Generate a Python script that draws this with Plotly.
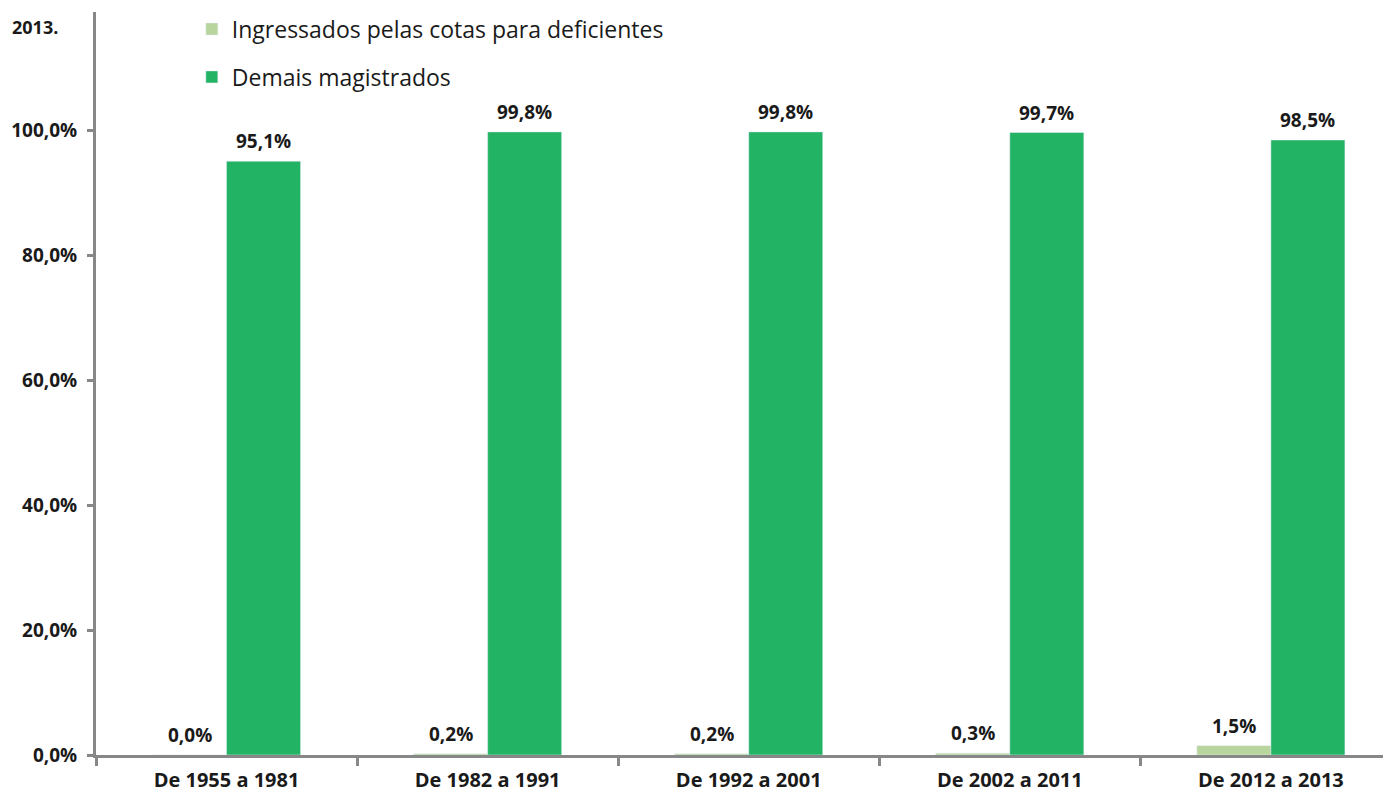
import plotly.graph_objects as go

categories = ["De 1955 a 1981", "De 1982 a 1991", "De 1992 a 2001", "De 2002 a 2011", "De 2012 a 2013"]
cotas = [0.0, 0.2, 0.2, 0.3, 1.5]
demais = [95.1, 99.8, 99.8, 99.7, 98.5]
series_names = ["Ingressados pelas cotas para deficientes", "Demais magistrados"]
y_ticks = [0, 20, 40, 60, 80, 100]
y_ticktext = [f"{v:.1f}%".replace(".", ",") for v in y_ticks]

FONT = "Open Sans, Liberation Sans, sans-serif"
C_LIGHT = "#B7D59C"
C_DARK = "#22B364"
AXIS = "#878787"
TXT = "#1a1a1a"

fig = go.Figure()
fig.add_trace(go.Bar(x=categories, y=cotas, name=series_names[0], marker_color=C_LIGHT,
                     legendgroup="a", hoverinfo="skip"))
fig.add_trace(go.Bar(x=categories, y=demais, name=series_names[1], marker_color=C_DARK,
                     legendgroup="b", hoverinfo="skip"))

bargap = 0.433
half = (1 - bargap) / 4
for i, cat in enumerate(categories):
    for v, off in ((cotas[i], -half), (demais[i], half)):
        fig.add_annotation(x=i + off, y=v, xref="x", yref="y",
                           text=f"{v:.1f}%".replace(".", ","), showarrow=False,
                           yanchor="bottom", yshift=5,
                           font=dict(family=FONT, size=19, color=TXT, weight="bold"))

fig.add_annotation(xref="paper", yref="paper", x=0, xshift=-86, xanchor="left",
                   y=1.0, yshift=-1, yanchor="top", text="2013.", showarrow=False,
                   font=dict(family=FONT, size=18, color=TXT, weight="bold"))

fig.update_layout(
    width=1391, height=796,
    margin=dict(l=88, r=8, t=4, b=49, autoexpand=False),
    paper_bgcolor="white", plot_bgcolor="white",
    barmode="group", bargap=bargap, bargroupgap=0,
    separators=",.",
    showlegend=True,
    legend=dict(x=0.074, xanchor="left", y=1.006, yanchor="top",
                font=dict(family=FONT, size=23, color=TXT),
                tracegroupgap=15, traceorder="grouped",
                bgcolor="rgba(0,0,0,0)"),
    xaxis=dict(type="category", range=[-0.5, 4.46], showgrid=False, zeroline=False,
               showline=True, linecolor=AXIS, linewidth=3,
               ticks="outside", tickson="boundaries", ticklen=8, tickwidth=3, tickcolor=AXIS,
               ticklabelstandoff=5,
               tickfont=dict(family=FONT, size=20, color=TXT, weight="bold"),
               automargin=False),
    yaxis=dict(range=[0, 119], tickvals=y_ticks, ticktext=y_ticktext,
               showgrid=False, zeroline=False, showline=True, linecolor=AXIS, linewidth=3,
               ticks="outside", ticklen=6, tickwidth=3, tickcolor=AXIS,
               ticklabelstandoff=6,
               tickfont=dict(family=FONT, size=19, color=TXT, weight="bold"),
               automargin=False),
)

fig.write_html("out.html")
